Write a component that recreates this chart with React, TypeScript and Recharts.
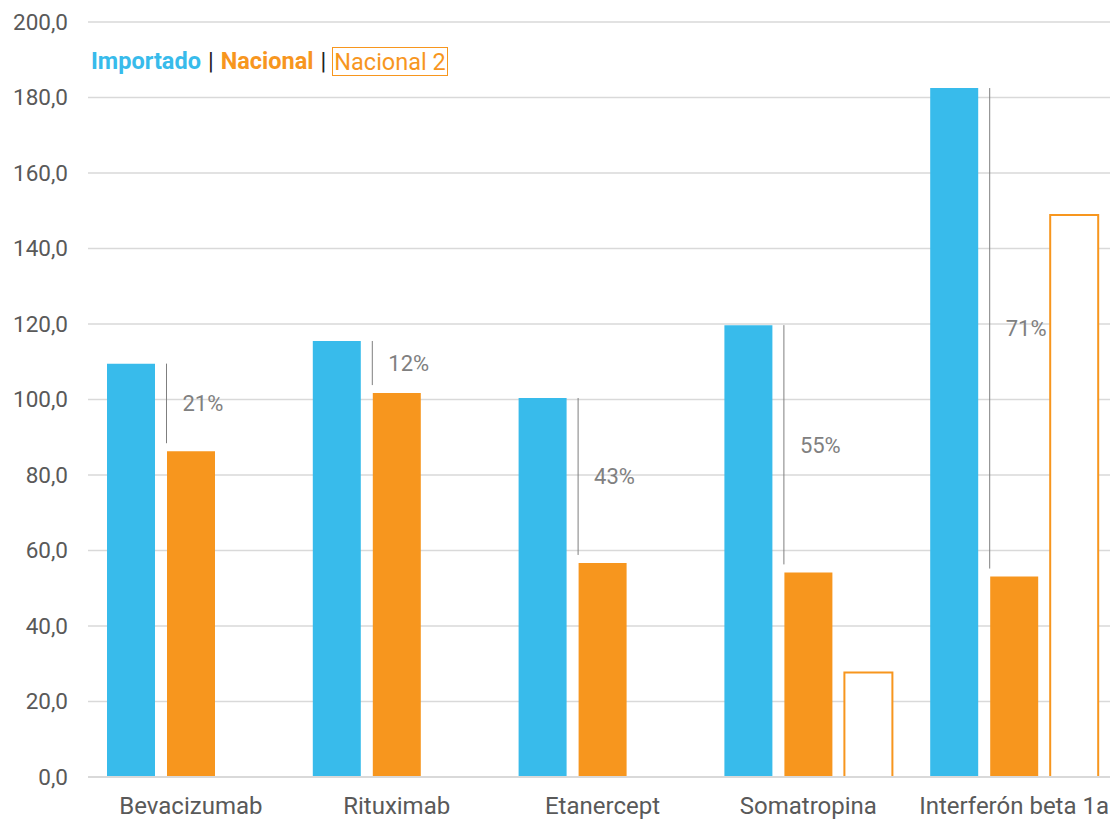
import React from "react";
import { Bar, BarChart, CartesianGrid, LabelList, XAxis, YAxis } from "recharts";

const categories = [
  "Bevacizumab",
  "Rituximab",
  "Etanercept",
  "Somatropina",
  "Interferón beta 1a",
];
const importado = [109.5, 115.5, 100.4, 119.7, 182.5];
const nacional = [86.3, 101.7, 56.7, 54.2, 53.1];
const nacional2: (number | null)[] = [null, null, null, 27.7, 148.9];
const reduccion = ["21%", "12%", "43%", "55%", "71%"];
const yTicks = [0, 20, 40, 60, 80, 100, 120, 140, 160, 180, 200];

const BLUE = "#38bbeb";
const ORANGE = "#f7961e";
const FONT = "Roboto, 'Noto Sans', sans-serif";

const data = categories.map((name, i) => ({
  name,
  importado: importado[i],
  nacional: nacional[i],
  nacional2: nacional2[i],
}));

function formatTick(v: number) {
  return v.toFixed(1).replace(".", ",");
}

// gray line from the Importado top down to the Nacional bar, with the % label
function DiffMarker(props: any) {
  const { x, y, height, value, index } = props;
  if (value == null || !height) return null;
  const perUnit = height / value;
  const base = y + height;
  const yTop = base - importado[index] * perUnit;
  const yEnd = y - 8;
  const lx = x - 0.5;
  return (
    <g>
      <line x1={lx} x2={lx} y1={yTop} y2={yEnd} stroke="#7f7f7f" strokeWidth={1} />
      <text
        x={lx + 16}
        y={(yTop + yEnd) / 2 + 2}
        dominantBaseline="middle"
        fontSize={22}
        fill="#808080"
        fontFamily={FONT}
      >
        {reduccion[index]}
      </text>
    </g>
  );
}

function LegendBox() {
  return (
    <div
      style={{
        position: "absolute",
        left: 91,
        top: 47,
        fontFamily: FONT,
        fontSize: 23.5,
        lineHeight: "29px",
        display: "flex",
        alignItems: "center",
        whiteSpace: "nowrap",
      }}
    >
      <span style={{ color: BLUE, fontWeight: 700 }}>Importado</span>
      <span style={{ color: "#222", margin: "0 7px" }}>|</span>
      <span style={{ color: ORANGE, fontWeight: 700 }}>Nacional</span>
      <span style={{ color: "#222", margin: "0 6px 0 7px" }}>|</span>
      <span
        style={{
          color: ORANGE,
          border: `1px solid ${ORANGE}`,
          padding: "0 1px",
          boxSizing: "border-box",
          height: 29,
        }}
      >
        Nacional 2
      </span>
    </div>
  );
}

export default function App() {
  return (
    <div
      style={{
        position: "absolute",
        left: 0,
        top: 0,
        width: 1110,
        height: 821,
        overflow: "hidden",
        background: "#fff",
      }}
    >
      <BarChart
        width={1117}
        height={821}
        data={data}
        margin={{ top: 22, right: 0, left: 1, bottom: 14 }}
        barSize={48}
        barGap={12}
      >
        <CartesianGrid vertical={false} stroke="#d9d9d9" strokeWidth={1.5} />
        <XAxis
          dataKey="name"
          height={30}
          tickLine={false}
          axisLine={{ stroke: "#d9d9d9", strokeWidth: 2 }}
          tickMargin={14}
          tick={{ fontSize: 24, fill: "#595959", fontFamily: FONT }}
          interval={0}
        />
        <YAxis
          width={87}
          domain={[0, 200]}
          ticks={yTicks}
          tickFormatter={formatTick}
          axisLine={false}
          tickLine={false}
          tickMargin={14}
          tick={{ fontSize: 22.5, fill: "#595959", fontFamily: FONT }}
        />
        <Bar dataKey="importado" fill={BLUE} isAnimationActive={false} />
        <Bar dataKey="nacional" fill={ORANGE} isAnimationActive={false}>
          <LabelList dataKey="nacional" content={<DiffMarker />} />
        </Bar>
        <Bar
          dataKey="nacional2"
          fill="#fff"
          stroke={ORANGE}
          strokeWidth={2}
          isAnimationActive={false}
        />
      </BarChart>
      <LegendBox />
    </div>
  );
}
